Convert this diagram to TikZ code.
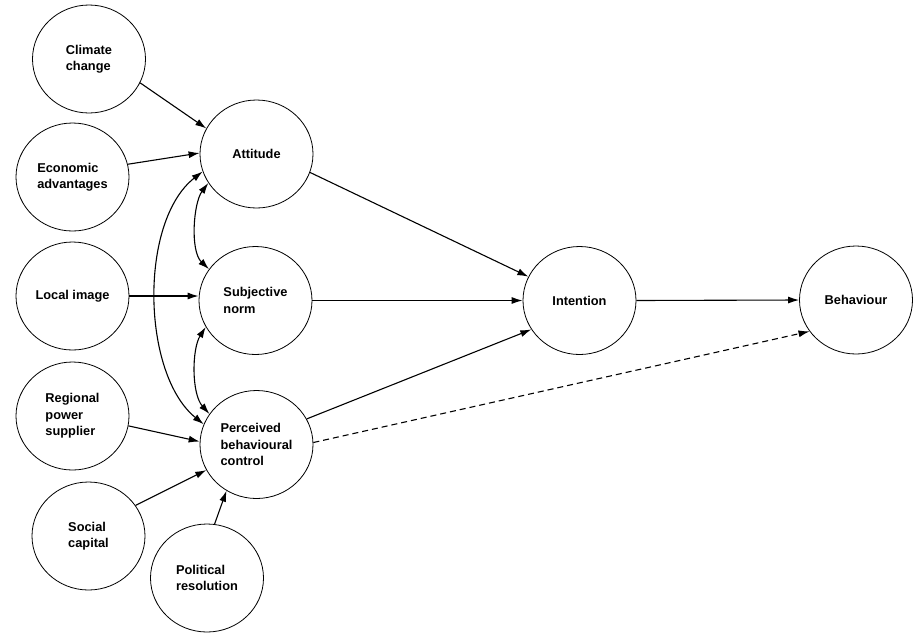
\documentclass[tikz,border=0pt]{standalone}
\usepackage{fontspec}
\setmainfont{Liberation Sans}
\usetikzlibrary{shapes.geometric,arrows.meta}
\begin{document}
\begin{tikzpicture}[x=1pt,y=1pt,
  var/.style={draw, line width=0.8pt, ellipse, minimum width=113pt, minimum height=108pt,
    inner sep=0pt, align=left, font=\fontsize{12.8}{16.5}\selectfont\bfseries},
  arr/.style={line width=1.1pt, -{Latex[length=11pt,width=7pt]}},
  darr/.style={line width=1.1pt, {Latex[length=11pt,width=7pt]}-{Latex[length=11pt,width=7pt]}},
  dsh/.style={dash pattern=on 6pt off 4pt}]
\useasboundingbox (0,0) rectangle (924,-641);
\node[var] (clim) at (89,-59) {Climate\\change};
\node[var] (econ) at (72.5,-177) {Economic\\advantages};
\node[var] (loc) at (72.5,-296) {Local image};
\node[var] (reg) at (72.5,-416) {Regional\\power\\supplier};
\node[var] (soc) at (88.5,-536) {Social\\capital};
\node[var] (pol) at (207,-578) {Political\\resolution};
\node[var] (att) at (256.5,-154) {Attitude};
\node[var] (sub) at (255.5,-300.5) {Subjective\\norm};
\node[var] (per) at (256.5,-444.5) {Perceived\\behavioural\\control};
\node[var] (int) at (579.5,-300.5) {Intention};
\node[var] (beh) at (856,-300) {Behaviour};
% inputs
\draw[arr] (clim.335) -- (att.153);
\draw[arr] (econ.13) -- (att.179);
\draw[arr] (loc.east) -- (sub.west |- loc.east);
\draw[arr] (reg.350) -- (per.177);
\draw[arr] (soc.33) -- (per.207);
\draw[arr] (pol.82) -- (per.237);
% to intention
\draw[arr] (att.341) -- (int.155);
\draw[arr] (sub.east) -- (int.west);
\draw[arr] (per.27) -- (int.211);
\draw[arr] (int.east) -- (beh.west);
\draw[arr,dsh] (per.2) -- (beh.214);
% correlations
\draw[darr] (att.211) .. controls +(-15,-20) and +(-19,18) .. (sub.146);
\draw[darr] (sub.208) .. controls +(-14,-22) and +(-18,20) .. (per.147);
\draw[darr] (att.198) .. controls +(-64,-50) and +(-62,50) .. (per.159);
\end{tikzpicture}
\end{document}
